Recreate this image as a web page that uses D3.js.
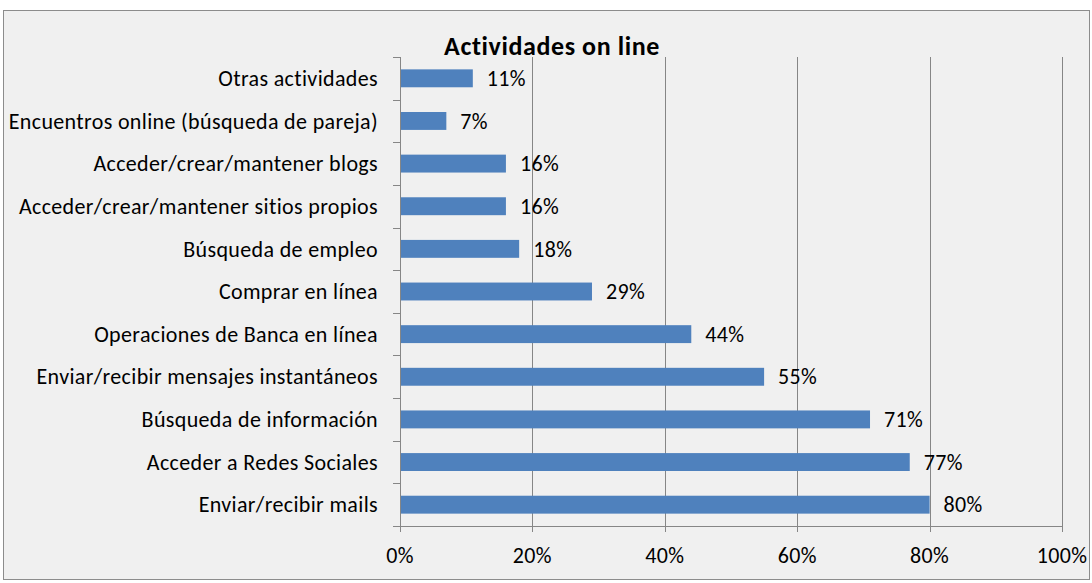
<!DOCTYPE html>
<html>
<head>
<meta charset="utf-8">
<script src="https://cdn.jsdelivr.net/npm/d3@7"></script>
<style>
  body { margin: 0; background: #fff; }
  svg { display: block; font-family: Carlito, Calibri, Lato, "Open Sans", sans-serif; }
</style>
</head>
<body>
<svg id="chart" width="1092" height="583"></svg>
<script>
// data, top to bottom as shown
const categories = [
  "Otras actividades",
  "Encuentros online (búsqueda de pareja)",
  "Acceder/crear/mantener blogs",
  "Acceder/crear/mantener sitios propios",
  "Búsqueda de empleo",
  "Comprar en línea",
  "Operaciones de Banca en línea",
  "Enviar/recibir mensajes instantáneos",
  "Búsqueda de información",
  "Acceder a Redes Sociales",
  "Enviar/recibir mails"
]
const values = [11, 7, 16, 16, 18, 29, 44, 55, 71, 77, 80]
const ticks = [0, 20, 40, 60, 80, 100]

const svg = d3.select("#chart")
const gridColor = "#868686"
const fontSize = 22
const spacing = "0.35px"

// chart frame
svg.append("rect")
  .attr("x", 3.5).attr("y", 10.5)
  .attr("width", 1086).attr("height", 569)
  .attr("fill", "#f0f0f0")
  .attr("stroke", "#8c8c8c")

const plot = {left: 400, right: 1062, top: 57, bottom: 526}

const x = d3.scaleLinear().domain([0, 100]).range([plot.left, plot.right])
const y = d3.scaleBand().domain(categories).range([plot.top, plot.bottom])
  .paddingInner(0.58).paddingOuter(0.29)

// vertical gridlines + ticks below axis
svg.append("g").selectAll("line")
  .data(ticks.filter(t => t > 0))
  .join("line")
    .attr("x1", d => Math.round(x(d)) + 0.5)
    .attr("x2", d => Math.round(x(d)) + 0.5)
    .attr("y1", plot.top)
    .attr("y2", plot.bottom + 6)
    .attr("stroke", gridColor)

// x axis line and left axis line
svg.append("line")
  .attr("x1", plot.left).attr("x2", plot.right + 1)
  .attr("y1", plot.bottom + 0.5).attr("y2", plot.bottom + 0.5)
  .attr("stroke", gridColor)
svg.append("line")
  .attr("x1", plot.left + 0.5).attr("x2", plot.left + 0.5)
  .attr("y1", plot.top).attr("y2", plot.bottom + 6)
  .attr("stroke", gridColor)

svg.append("g").selectAll("text")
  .data(ticks)
  .join("text")
    .attr("x", d => x(d))
    .attr("y", plot.bottom + 37)
    .attr("text-anchor", "middle")
    .attr("font-size", fontSize)
    .attr("letter-spacing", spacing)
    .attr("fill", "#000")
    .text(d => d + "%")

// y ticks at category boundaries
const bounds = d3.range(categories.length + 1).map(i => plot.top + i * (plot.bottom - plot.top) / categories.length)
svg.append("g").selectAll("line")
  .data(bounds)
  .join("line")
    .attr("x1", plot.left - 7).attr("x2", plot.left)
    .attr("y1", d => Math.round(d) + 0.5)
    .attr("y2", d => Math.round(d) + 0.5)
    .attr("stroke", gridColor)

// bars
svg.append("g").selectAll("rect")
  .data(values)
  .join("rect")
    .attr("x", x(0) + 1)
    .attr("y", (d, i) => y(categories[i]))
    .attr("width", d => x(d) - x(0) - 1)
    .attr("height", y.bandwidth())
    .attr("fill", "#4f81bd")

// value labels
svg.append("g").selectAll("text")
  .data(values)
  .join("text")
    .attr("x", d => x(d) + 14)
    .attr("y", (d, i) => y(categories[i]) + y.bandwidth() / 2)
    .attr("dy", "0.35em")
    .attr("font-size", fontSize)
    .attr("letter-spacing", spacing)
    .attr("fill", "#000")
    .text(d => d + "%")

// category labels
svg.append("g").selectAll("text")
  .data(categories)
  .join("text")
    .attr("x", 378)
    .attr("y", d => y(d) + y.bandwidth() / 2)
    .attr("dy", "0.35em")
    .attr("text-anchor", "end")
    .attr("font-size", fontSize)
    .attr("letter-spacing", spacing)
    .attr("fill", "#000")
    .text(d => d)

// title
svg.append("text")
  .attr("x", 552)
  .attr("y", 55)
  .attr("text-anchor", "middle")
  .attr("font-size", 26)
  .attr("letter-spacing", "0.6px")
  .attr("font-weight", "bold")
  .text("Actividades on line")
</script>
</body>
</html>
